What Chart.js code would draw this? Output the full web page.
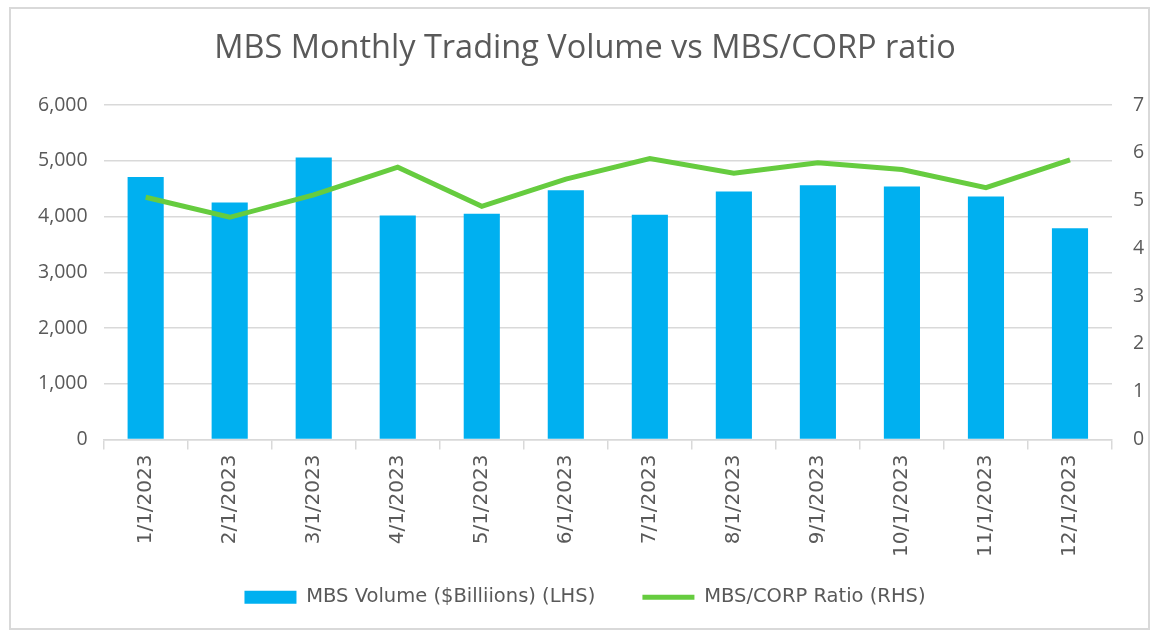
<!DOCTYPE html>
<html>
<head>
<meta charset="utf-8">
<title>MBS Monthly Trading Volume vs MBS/CORP ratio</title>
<script src="https://cdn.jsdelivr.net/npm/chart.js@4.4.1/dist/chart.umd.min.js"></script>
<style>
    html, body { margin: 0; padding: 0; background: #fff; }
    #frame {
        position: absolute;
        left: 9px; top: 7px;
        width: 1141px; height: 623px;
        border: 2px solid #d9d9d9;
        box-sizing: border-box;
    }
    #chartBox { position: absolute; left: 0; top: 0; width: 100%; height: 100%; }
</style>
</head>
<body>
<div id="frame">
    <div id="chartBox"><canvas id="mbsChart"></canvas></div>
</div>
<script>
const months = ['1/1/2023', '2/1/2023', '3/1/2023', '4/1/2023', '5/1/2023', '6/1/2023',
                '7/1/2023', '8/1/2023', '9/1/2023', '10/1/2023', '11/1/2023', '12/1/2023'];
const mbsVolume = [4710, 4250, 5060, 4020, 4050, 4470, 4030, 4450, 4560, 4540, 4360, 3790];
const mbsCorpRatio = [5.07, 4.65, 5.12, 5.70, 4.88, 5.45, 5.88, 5.57, 5.79, 5.65, 5.27, 5.85];
const leftTicks = [0, 1000, 2000, 3000, 4000, 5000, 6000];
const rightTicks = [0, 1, 2, 3, 4, 5, 6, 7];

const textGrey = '#595959';
const gridGrey = '#d9d9d9';

document.addEventListener('DOMContentLoaded', function() {
    const ctx = document.getElementById('mbsChart').getContext('2d');
    const defaultLabels = Chart.defaults.plugins.legend.labels.generateLabels;

    new Chart(ctx, {
        data: {
            labels: months,
            datasets: [{
                type: 'bar',
                label: 'MBS Volume ($Billiions) (LHS)',
                data: mbsVolume,
                backgroundColor: '#00b0f0',
                borderWidth: 0,
                barPercentage: 0.43,
                categoryPercentage: 1,
                pointStyle: 'rect',
                yAxisID: 'y',
                order: 2
            }, {
                type: 'line',
                label: 'MBS/CORP Ratio (RHS)',
                data: mbsCorpRatio,
                borderColor: '#66cc3f',
                backgroundColor: '#66cc3f',
                borderWidth: 5,
                pointRadius: 0,
                pointStyle: 'line',
                tension: 0,
                yAxisID: 'y1',
                order: 1
            }]
        },
        options: {
            responsive: true,
            maintainAspectRatio: false,
            animation: false,
            layout: { padding: { left: 11, right: 0, top: 20, bottom: 11 } },
            plugins: {
                title: {
                    display: true,
                    text: 'MBS Monthly Trading Volume vs MBS/CORP ratio',
                    color: textGrey,
                    font: { family: 'Open Sans', size: 32.5, weight: 'normal' },
                    padding: { top: 0, bottom: 37 }
                },
                legend: {
                    position: 'bottom',
                    labels: {
                        usePointStyle: true,
                        pointStyleWidth: 52,
                        boxHeight: 13,
                        color: textGrey,
                        padding: 10,
                        font: { family: 'DejaVu Sans', size: 19.5 },
                        sort: (a, b) => a.datasetIndex - b.datasetIndex,
                        // wider gap after the first entry, as in the original
                        generateLabels: chart => defaultLabels(chart).map(item => {
                            if (item.datasetIndex === 0) item.text = item.text + '      ';
                            return item;
                        })
                    }
                },
                tooltip: { enabled: false }
            },
            scales: {
                x: {
                    offset: true,
                    grid: {
                        offset: true,
                        drawOnChartArea: false,
                        drawTicks: true,
                        tickLength: 10,
                        color: gridGrey,
                        lineWidth: 1.5
                    },
                    border: { display: true, color: gridGrey, width: 1.5 },
                    ticks: {
                        color: textGrey,
                        minRotation: 90,
                        maxRotation: 90,
                        padding: 5,
                        font: { family: 'DejaVu Sans', size: 20 }
                    },
                    afterFit: axis => {
                        axis.height = 138;
                        axis.paddingLeft = 0;
                        axis.paddingRight = 0;
                    }
                },
                y: {
                    position: 'left',
                    min: leftTicks[0],
                    max: leftTicks[leftTicks.length - 1],
                    afterBuildTicks: axis => { axis.ticks = leftTicks.map(v => ({ value: v })); },
                    grid: { color: gridGrey, lineWidth: 1.5, drawTicks: false },
                    border: { display: false },
                    ticks: {
                        color: textGrey,
                        padding: 16,
                        font: { family: 'Open Sans', size: 19.5 },
                        callback: v => v.toLocaleString('en-US')
                    }
                },
                y1: {
                    position: 'right',
                    min: rightTicks[0],
                    max: rightTicks[rightTicks.length - 1],
                    afterBuildTicks: axis => { axis.ticks = rightTicks.map(v => ({ value: v })); },
                    grid: { drawOnChartArea: false, drawTicks: false },
                    border: { display: false },
                    ticks: {
                        color: textGrey,
                        padding: 21,
                        font: { family: 'Open Sans', size: 19.5 }
                    },
                    afterFit: axis => { axis.width = 36; }
                }
            }
        }
    });
});
</script>
</body>
</html>
